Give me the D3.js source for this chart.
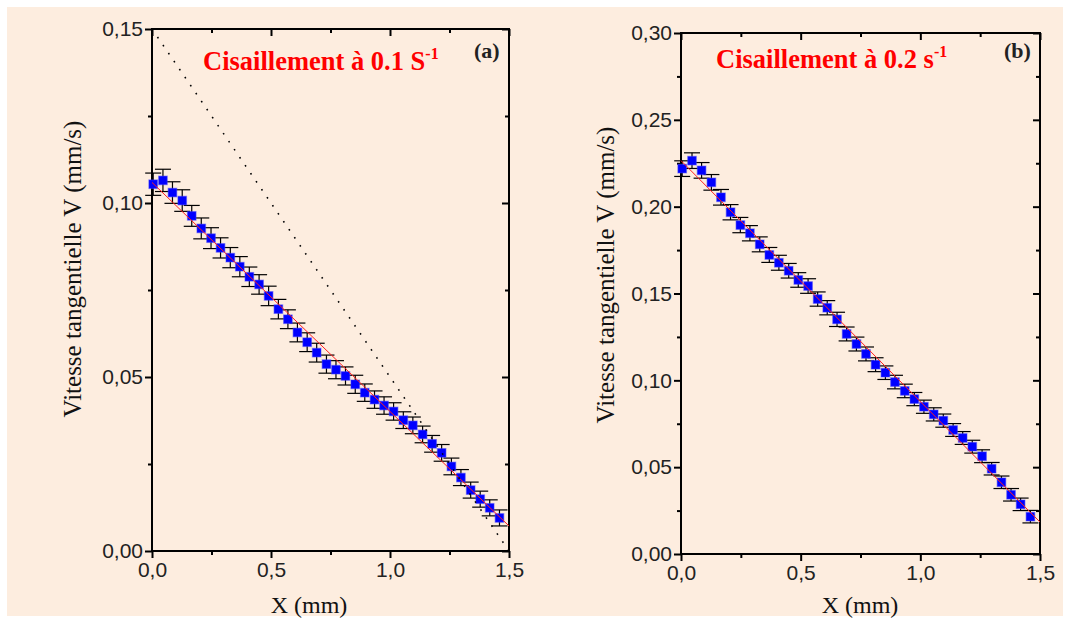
<!DOCTYPE html>
<html><head><meta charset="utf-8">
<script src="https://cdn.jsdelivr.net/npm/d3@7/dist/d3.min.js"></script>
<style>body{margin:0;background:#fff}svg{display:block}</style>
</head><body>
<svg id="c" width="1067" height="620"></svg>
<script>
// ---- data ----
const xPos = [0.005,0.046,0.086,0.127,0.167,0.207,0.248,0.288,0.329,0.369,0.409,0.450,0.490,0.531,0.571,0.611,0.652,0.692,0.733,0.773,0.813,0.854,0.894,0.935,0.975,1.015,1.056,1.096,1.137,1.177,1.217,1.258,1.298,1.339,1.379,1.419,1.460];
const vA = [0.1054,0.1065,0.1030,0.1007,0.0963,0.0927,0.0899,0.0871,0.0843,0.0817,0.0788,0.0766,0.0733,0.0695,0.0666,0.0628,0.0600,0.0570,0.0537,0.0521,0.0503,0.0479,0.0455,0.0435,0.0418,0.0401,0.0376,0.0361,0.0335,0.0308,0.0282,0.0243,0.0211,0.0175,0.0149,0.0124,0.0095];
const errA = [0.0032,0.0032,0.0031,0.0031,0.0030,0.0030,0.0030,0.0029,0.0029,0.0029,0.0028,0.0028,0.0028,0.0028,0.0027,0.0027,0.0027,0.0027,0.0026,0.0026,0.0026,0.0026,0.0025,0.0025,0.0025,0.0025,0.0024,0.0024,0.0024,0.0024,0.0024,0.0024,0.0023,0.0023,0.0023,0.0023,0.0023];
const vB = [0.2219,0.2265,0.2209,0.2140,0.2054,0.1968,0.1894,0.1847,0.1783,0.1722,0.1677,0.1631,0.1578,0.1543,0.1468,0.1418,0.1351,0.1267,0.1209,0.1152,0.1090,0.1044,0.0990,0.0939,0.0892,0.0848,0.0804,0.0768,0.0714,0.0668,0.0618,0.0563,0.0491,0.0413,0.0341,0.0286,0.0215];
const errB = [0.0045,0.0045,0.0045,0.0045,0.0045,0.0044,0.0044,0.0044,0.0043,0.0043,0.0043,0.0042,0.0042,0.0042,0.0041,0.0041,0.0041,0.0040,0.0040,0.0040,0.0040,0.0039,0.0039,0.0039,0.0038,0.0038,0.0038,0.0038,0.0037,0.0037,0.0037,0.0037,0.0036,0.0036,0.0036,0.0036,0.0036];
const fitA = [[0, 0.1059],[1.5, 0.0072]];
const fitB = [[0, 0.2265],[1.5, 0.0184]];
const refLineA = [[0, 0.15],[1.5, 0.0]];
const xTicks = [0, 0.5, 1.0, 1.5];
const xMinor = [0.25, 0.75, 1.25];
const yTicksA = [0, 0.05, 0.10, 0.15];
const yMinorA = [0.025, 0.075, 0.125];
const yTicksB = [0, 0.05, 0.10, 0.15, 0.20, 0.25, 0.30];
const yMinorB = [0.025, 0.075, 0.125, 0.175, 0.225, 0.275];
const titles = ["Cisaillement à 0.1 S", "Cisaillement à 0.2 s"];
const tags = ["(a)", "(b)"];
const xLabel = "X (mm)";
const yLabel = "Vitesse tangentielle V (mm/s)";

const svg = d3.select("#c");
svg.append("rect").attr("x",7).attr("y",7).attr("width",1056).attr("height",609).attr("fill","#fdeddf");

const fmt2 = v => d3.format(".2f")(v).replace(".", ",");
const fmt1 = v => d3.format(".1f")(v).replace(".", ",");
const serif = "'Liberation Serif', 'Times New Roman', serif";

function panel(cfg){
  const x = d3.scaleLinear().domain([0,1.5]).range([cfg.l, cfg.r]);
  const y = d3.scaleLinear().domain([0,cfg.ymax]).range([cfg.b, cfg.t]);
  const g = svg.append("g");
  const tickStyle = sel => { sel.select(".domain").remove(); sel.selectAll("line").attr("stroke","#000").attr("stroke-width",2); sel.selectAll("text").attr("font-family","'Liberation Sans', Arial, sans-serif").attr("font-size",21).attr("fill","#222"); };
  // bottom
  g.append("g").attr("transform",`translate(0,${cfg.b})`).call(d3.axisBottom(x).tickValues(xTicks).tickSize(7).tickPadding(4).tickFormat(fmt1)).call(tickStyle);
  g.append("g").attr("transform",`translate(0,${cfg.b})`).call(d3.axisBottom(x).tickValues(xMinor).tickSize(4).tickFormat("")).call(tickStyle);
  // top (inward)
  g.append("g").attr("transform",`translate(0,${cfg.t})`).call(d3.axisBottom(x).tickValues(xTicks).tickSize(7).tickFormat("")).call(tickStyle);
  g.append("g").attr("transform",`translate(0,${cfg.t})`).call(d3.axisBottom(x).tickValues(xMinor).tickSize(4).tickFormat("")).call(tickStyle);
  // left
  g.append("g").attr("transform",`translate(${cfg.l},0)`).call(d3.axisLeft(y).tickValues(cfg.yt).tickSize(7).tickPadding(2).tickFormat(fmt2)).call(tickStyle);
  g.append("g").attr("transform",`translate(${cfg.l},0)`).call(d3.axisLeft(y).tickValues(cfg.ym).tickSize(4).tickFormat("")).call(tickStyle);
  // right (inward)
  g.append("g").attr("transform",`translate(${cfg.r},0)`).call(d3.axisLeft(y).tickValues(cfg.yt).tickSize(7).tickFormat("")).call(tickStyle);
  g.append("g").attr("transform",`translate(${cfg.r},0)`).call(d3.axisLeft(y).tickValues(cfg.ym).tickSize(4).tickFormat("")).call(tickStyle);
  // frame
  g.append("rect").attr("x",cfg.l).attr("y",cfg.t).attr("width",cfg.r-cfg.l).attr("height",cfg.b-cfg.t)
    .attr("fill","none").attr("stroke","#000").attr("stroke-width",2);

  const data = xPos.map((xv,i)=>({x:xv, v:cfg.v[i], e:cfg.err[i]}));
  // error bars
  const eb = g.append("g").attr("stroke","#000").attr("stroke-width",1.2);
  data.forEach(d=>{
    const cx = x(d.x), y1 = y(d.v+d.e), y2 = y(d.v-d.e);
    eb.append("line").attr("x1",cx).attr("x2",cx).attr("y1",y1).attr("y2",y2);
    eb.append("line").attr("x1",cx-8).attr("x2",cx+8).attr("y1",y1).attr("y2",y1);
    eb.append("line").attr("x1",cx-8).attr("x2",cx+8).attr("y1",y2).attr("y2",y2);
  });
  // markers
  g.append("g").selectAll("rect").data(data).join("rect")
    .attr("x",d=>x(d.x)-4.3).attr("y",d=>y(d.v)-4.3).attr("width",8.6).attr("height",8.6)
    .attr("fill","#0000ff").attr("stroke","rgba(60,60,255,0.45)").attr("stroke-width",1.2);
  // fit line
  const line = d3.line().x(d=>x(d[0])).y(d=>y(d[1]));
  g.append("path").attr("d",line(cfg.fit)).attr("stroke","#ff2020").attr("stroke-width",1).attr("fill","none");
  if (cfg.ref) g.append("path").attr("d",line(cfg.ref)).attr("stroke","#000").attr("stroke-width",1.6)
      .attr("stroke-dasharray","1.6,8.1").attr("fill","none");

  // labels
  g.append("text").attr("x",cfg.xlx).attr("y",613).attr("text-anchor","middle")
    .attr("font-family",serif).attr("font-size",24).attr("fill","#111").text(xLabel);
  g.append("text").attr("transform",`translate(${cfg.ylx},${cfg.yly}) rotate(-90)`).attr("text-anchor","middle")
    .attr("font-family",serif).attr("font-size",25).attr("fill","#111").text(yLabel);
  const tt = g.append("text").attr("x",cfg.tx).attr("y",cfg.ty)
    .attr("font-family",serif).attr("font-weight","bold").attr("font-size",26.5).attr("fill","#ff0000");
  tt.append("tspan").text(cfg.title);
  tt.append("tspan").attr("dy",-11).attr("font-size",16).text("-1");
  g.append("text").attr("x",cfg.tagx).attr("y",58)
    .attr("font-family",serif).attr("font-weight","bold").attr("font-size",22).attr("fill","#222").text(cfg.tag);
}

panel({l:152, r:509, t:29, b:551, ymax:0.15, yt:yTicksA, ym:yMinorA, v:vA, err:errA, fit:fitA, ref:refLineA,
  xlx:309, ylx:81, yly:269, title:titles[0], tx:203, ty:70, tag:tags[0], tagx:474});
panel({l:681, r:1040, t:33, b:554, ymax:0.30, yt:yTicksB, ym:yMinorB, v:vB, err:errB, fit:fitB, ref:null,
  xlx:860, ylx:614, yly:275, title:titles[1], tx:716, ty:68, tag:tags[1], tagx:1004});
</script>
</body></html>
